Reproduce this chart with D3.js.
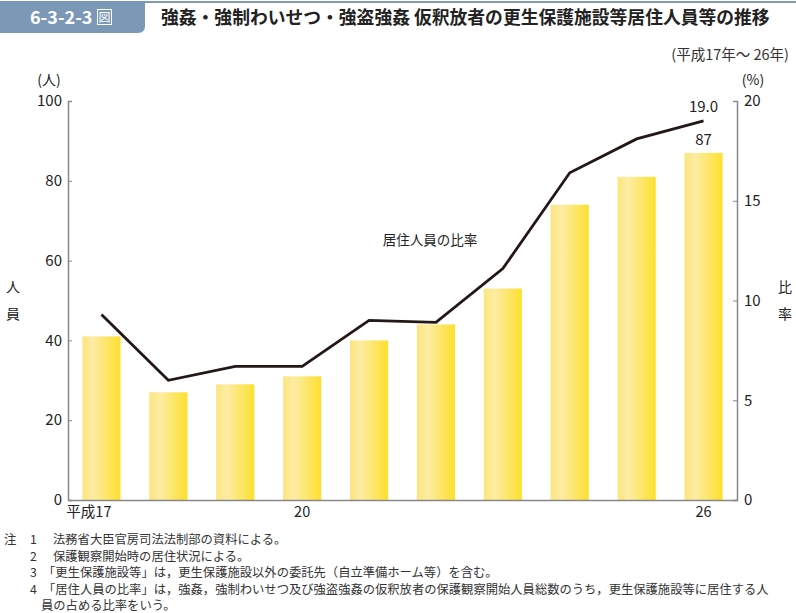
<!DOCTYPE html>
<html>
<head>
<meta charset="utf-8">
<script src="https://cdn.jsdelivr.net/npm/d3@7"></script>
<style>
  html, body { margin: 0; padding: 0; background: #fff; overflow: hidden; }
  svg { display: block; font-family: "Noto Sans CJK JP", "Noto Sans", sans-serif; }
</style>
</head>
<body>
<div id="chart"></div>
<script>
// データ（平成17年～26年）
const years = ["17", "18", "19", "20", "21", "22", "23", "24", "25", "26"];
const tickLabels = ["平成17", "", "", "20", "", "", "", "", "", "26"];
const residents = [41, 27, 29, 31, 40, 44, 53, 74, 81, 87];
const ratio = [9.3, 6.0, 6.7, 6.7, 9.0, 8.9, 11.6, 16.4, 18.1, 19.0];
const leftTicks = [0, 20, 40, 60, 80, 100];
const rightTicks = [0, 5, 10, 15, 20];
const notes = [
  ["注", "1", "法務省大臣官房司法法制部の資料による。"],
  ["", "2", "保護観察開始時の居住状況による。"],
  ["", "3", "「更生保護施設等」は，更生保護施設以外の委託先（自立準備ホーム等）を含む。"],
  ["", "4", "「居住人員の比率」は，強姦，強制わいせつ及び強盗強姦の仮釈放者の保護観察開始人員総数のうち，更生保護施設等に居住する人"],
  ["", "", "員の占める比率をいう。"]
];

const width = 796, height = 613;
const margin = { left: 68, right: 59, top: 101, bottom: 113 };
const innerWidth = width - margin.left - margin.right;
const innerHeight = height - margin.top - margin.bottom;

const svg = d3.select("#chart").append("svg")
  .attr("width", width)
  .attr("height", height);

// 見出し
svg.append("rect")
  .attr("x", 0).attr("y", 1)
  .attr("width", width).attr("height", 2)
  .attr("fill", "#7f9bb9");
svg.append("path")
  .attr("d", "M0,1 H145 V26 Q145,33 138,33 H0 Z")
  .attr("fill", "#7c98b7");
svg.append("text")
  .attr("x", 30).attr("y", 24)
  .attr("fill", "#fff")
  .attr("font-size", 18)
  .attr("font-weight", "bold")
  .text("6-3-2-3");
svg.append("rect")
  .attr("x", 97.5).attr("y", 9.5)
  .attr("width", 14).attr("height", 15)
  .attr("fill", "none")
  .attr("stroke", "#fff");
svg.append("text")
  .attr("x", 104.5).attr("y", 22)
  .attr("text-anchor", "middle")
  .attr("fill", "#fff")
  .attr("font-size", 12)
  .text("図");
svg.append("text")
  .attr("x", 161).attr("y", 24)
  .attr("fill", "#222")
  .attr("font-size", 17.8)
  .attr("font-weight", "bold")
  .text("強姦・強制わいせつ・強盗強姦 仮釈放者の更生保護施設等居住人員等の推移");
svg.append("text")
  .attr("x", 789).attr("y", 60)
  .attr("text-anchor", "end")
  .attr("fill", "#333")
  .attr("font-size", 14.5)
  .text("(平成17年～ 26年)");

const g = svg.append("g")
  .attr("transform", `translate(${margin.left}, ${margin.top})`);

// スケール
const x = d3.scaleBand()
  .domain(years)
  .range([0, innerWidth])
  .paddingInner(0.43)
  .paddingOuter(0.215);

const y = d3.scaleLinear()
  .domain([0, 100])
  .range([innerHeight, 0]);

const y2 = d3.scaleLinear()
  .domain([0, 20])
  .range([innerHeight, 0]);

// グラデーション
const grad = svg.append("defs").append("linearGradient")
  .attr("id", "barGrad")
  .attr("x1", "0%").attr("x2", "100%");
grad.append("stop").attr("offset", "0%").attr("stop-color", "#fce57f");
grad.append("stop").attr("offset", "28%").attr("stop-color", "#fdeca4");
grad.append("stop").attr("offset", "100%").attr("stop-color", "#fde02e");

// 棒
g.selectAll("rect.bar")
  .data(residents)
  .enter()
  .append("rect")
  .attr("class", "bar")
  .attr("x", (d, i) => x(years[i]))
  .attr("y", d => y(d))
  .attr("width", x.bandwidth())
  .attr("height", d => innerHeight - y(d))
  .attr("fill", "url(#barGrad)");

// 折れ線
const line = d3.line()
  .x((d, i) => x(years[i]) + x.bandwidth() / 2)
  .y(d => y2(d));

g.append("path")
  .datum(ratio)
  .attr("d", line)
  .attr("fill", "none")
  .attr("stroke", "#231815")
  .attr("stroke-width", 2.8)
  .attr("stroke-linejoin", "miter");

// 軸
const axisColor = "#888";
const yAxis = g.append("g")
  .call(d3.axisRight(y).tickValues(leftTicks).tickSize(4).tickFormat(""));
const y2Axis = g.append("g")
  .attr("transform", `translate(${innerWidth}, 0)`)
  .call(d3.axisLeft(y2).tickValues(rightTicks).tickSize(4).tickFormat(""));
const xAxis = g.append("g")
  .attr("transform", `translate(0, ${innerHeight})`)
  .call(d3.axisBottom(x).tickSize(0).tickFormat((d, i) => tickLabels[i]));

[yAxis, y2Axis, xAxis].forEach(a => {
  a.select(".domain").attr("stroke", axisColor).attr("stroke-width", 1.5);
  a.selectAll("line").attr("stroke", axisColor);
  a.selectAll("text").filter(function() { return this.textContent === ""; }).remove();
});

xAxis.selectAll("text")
  .attr("font-size", 14.5)
  .attr("fill", "#222")
  .attr("dy", "0.95em")
  .attr("font-family", "Noto Sans CJK JP");
xAxis.selectAll("text")
  .filter(function() { return this.textContent === tickLabels[0]; })
  .attr("text-anchor", "end")
  .attr("dx", "10");

// 目盛りラベル
g.selectAll("text.ly")
  .data(leftTicks)
  .enter()
  .append("text")
  .attr("class", "ly")
  .attr("x", -6)
  .attr("y", d => y(d))
  .attr("dy", "0.35em")
  .attr("text-anchor", "end")
  .attr("font-size", 15)
  .attr("fill", "#222")
  .text(d => d);

g.selectAll("text.ry")
  .data(rightTicks)
  .enter()
  .append("text")
  .attr("class", "ry")
  .attr("x", innerWidth + 7)
  .attr("y", d => y2(d))
  .attr("dy", "0.35em")
  .attr("font-size", 15)
  .attr("fill", "#222")
  .text(d => d);

// 単位
svg.append("text")
  .attr("x", 49).attr("y", 85)
  .attr("text-anchor", "middle")
  .attr("font-size", 14).attr("fill", "#222")
  .text("(人)");
svg.append("text")
  .attr("x", 753).attr("y", 85)
  .attr("text-anchor", "middle")
  .attr("font-size", 14).attr("fill", "#222")
  .text("(%)");

// 軸タイトル
[["人", 13, 292], ["員", 13, 319], ["比", 785, 292], ["率", 785, 319]].forEach(t => {
  svg.append("text")
    .attr("x", t[1]).attr("y", t[2])
    .attr("text-anchor", "middle")
    .attr("font-size", 14).attr("fill", "#222")
    .text(t[0]);
});

// 値ラベル
const last = years.length - 1;
g.append("text")
  .attr("x", x(years[last]) + x.bandwidth() / 2)
  .attr("y", y2(ratio[last]) - 9)
  .attr("text-anchor", "middle")
  .attr("font-size", 15).attr("fill", "#222")
  .text(ratio[last].toFixed(1));
g.append("text")
  .attr("x", x(years[last]) + x.bandwidth() / 2)
  .attr("y", y(residents[last]) - 8)
  .attr("text-anchor", "middle")
  .attr("font-size", 15).attr("fill", "#222")
  .text(residents[last]);

// 系列ラベル
svg.append("text")
  .attr("x", 430).attr("y", 245)
  .attr("text-anchor", "middle")
  .attr("font-size", 13.5).attr("fill", "#222")
  .text("居住人員の比率");

// 注
notes.forEach((n, i) => {
  const yy = 544 + i * 16.6;
  const parts = [[n[0], 4], [n[1], 30],
    [n[2], i === 4 ? 41 : (n[2].startsWith("「") ? 43 : 53)]];
  parts.filter(p => p[0]).forEach(p => {
    svg.append("text")
      .attr("x", p[1]).attr("y", yy)
      .attr("font-size", 12.3)
      .attr("fill", "#333")
      .text(p[0]);
  });
});
</script>
</body>
</html>
